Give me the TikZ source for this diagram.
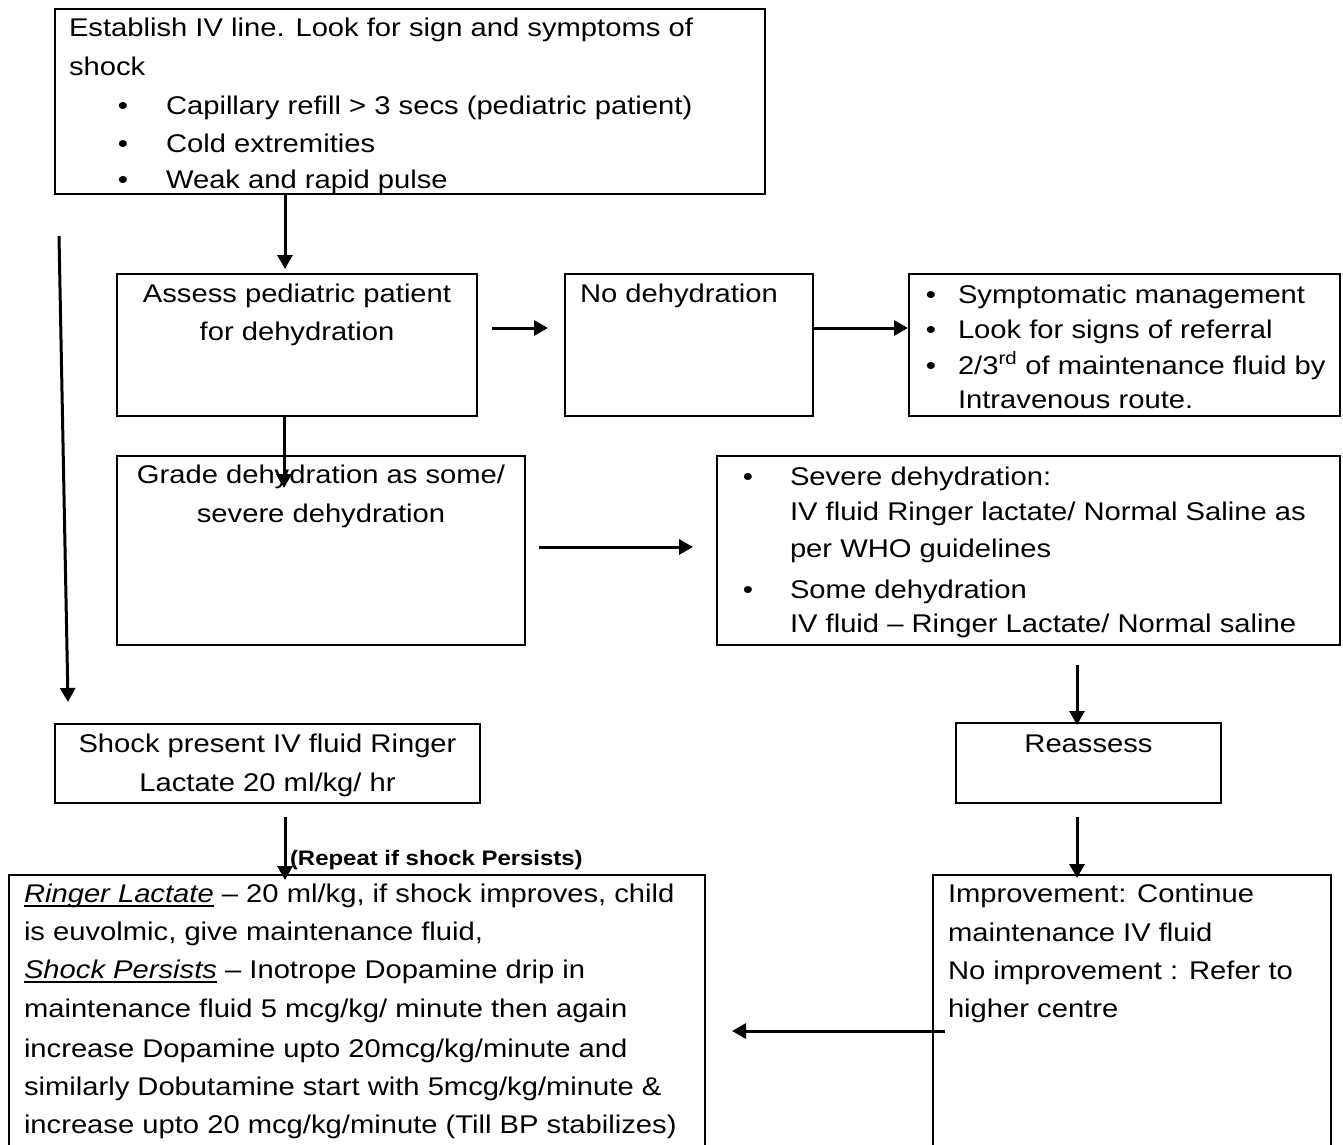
\documentclass[tikz,border=0pt]{standalone}
\usepackage{fontspec}
\setmainfont[FakeStretch=1.14]{Liberation Sans}
\usetikzlibrary{arrows.meta,calc}
\newcommand\myul[1]{\setbox0\hbox{#1}\rlap{\rule[-4.5pt]{\wd0}{2pt}}\box0\relax}
\begin{document}
\begin{tikzpicture}[x=1pt,y=-1pt,
  box/.style={draw=black,line width=2pt,inner sep=0pt,outer sep=0pt,rectangle},
  txt/.style={inner sep=0pt,outer sep=0pt,font=\fontsize{25.6pt}{30pt}\selectfont},
  lbl/.style={inner sep=0pt,outer sep=0pt,font=\fontsize{21pt}{25pt}\selectfont\bfseries},
  arr/.style={line width=3pt,-{Triangle[width=15pt,length=14pt]}},
  plain/.style={line width=3pt}]
\useasboundingbox (0,0) rectangle (1343,1145);
\fill[white] (0,0) rectangle (1343,1145);

% boxes
\node[box,minimum width=710pt,minimum height=185pt] (b1) at (410,101.5) {};
\node[box,minimum width=360pt,minimum height=142pt] (assess) at (297,345) {};
\node[box,minimum width=248pt,minimum height=142pt] (nodeh) at (689,345) {};
\node[box,minimum width=431pt,minimum height=142pt] (symp) at (1124.5,345) {};
\node[box,minimum width=408pt,minimum height=189pt] (grade) at (321,550.5) {};
\node[box,minimum width=623pt,minimum height=189pt] (severe) at (1028.5,550.5) {};
\node[box,minimum width=425pt,minimum height=79pt] (shock) at (267.5,763.5) {};
\node[box,minimum width=265pt,minimum height=80pt] (reassess) at (1088.5,763) {};
\node[box,minimum width=696pt,minimum height=275pt] (rl) at (357,1012.5) {};
\node[box,minimum width=398pt,minimum height=275pt] (impr) at (1132,1012.5) {};

% texts: top box
\node[txt,anchor=base west] (t1a) at (69,37) {Establish IV line. Look for sign and symptoms of};
\node[txt,anchor=base west] (t1b) at (69,76) {shock};
\node[txt,anchor=base] (d1a) at (123,115) {•};
\node[txt,anchor=base] (d1b) at (123,152) {•};
\node[txt,anchor=base] (d1c) at (123,188) {•};
\node[txt,anchor=base west] (t1c) at (166,115) {Capillary refill > 3 secs (pediatric patient)};
\node[txt,anchor=base west] (t1d) at (166,152) {Cold extremities};
\node[txt,anchor=base west] (t1e) at (166,188) {Weak and rapid pulse};

% assess
\node[txt,anchor=base] (t2a) at (297,302) {Assess pediatric patient};
\node[txt,anchor=base] (t2b) at (297,340) {for dehydration};
% no dehydration
\node[txt,anchor=base west] (t3a) at (580,302) {No dehydration};
% symptomatic
\node[txt,anchor=base] (d4a) at (931,303) {•};
\node[txt,anchor=base] (d4b) at (931,338) {•};
\node[txt,anchor=base] (d4c) at (931,374) {•};
\node[txt,anchor=base west] (t4a) at (958,303) {Symptomatic management};
\node[txt,anchor=base west] (t4b) at (958,338) {Look for signs of referral};
\node[txt,anchor=base west] (t4c) at (958,374) {2/3\textsuperscript{rd} of maintenance fluid by};
\node[txt,anchor=base west] (t4d) at (958,408) {Intravenous route.};
% grade
\node[txt,anchor=base] (t5a) at (321,483) {Grade dehydration as some/};
\node[txt,anchor=base] (t5b) at (321,522) {severe dehydration};
% severe
\node[txt,anchor=base] (d6a) at (748,485) {•};
\node[txt,anchor=base] (d6b) at (748,598) {•};
\node[txt,anchor=base west] (t6a) at (790,485) {Severe dehydration:};
\node[txt,anchor=base west] (t6b) at (790,520) {IV fluid Ringer lactate/ Normal Saline as};
\node[txt,anchor=base west] (t6c) at (790,557) {per WHO guidelines};
\node[txt,anchor=base west] (t6d) at (790,598) {Some dehydration};
\node[txt,anchor=base west] (t6e) at (790,632) {IV fluid – Ringer Lactate/ Normal saline};
% shock
\node[txt,anchor=base] (t7a) at (267.5,752) {Shock present IV fluid Ringer};
\node[txt,anchor=base] (t7b) at (267.5,791) {Lactate 20 ml/kg/ hr};
% reassess
\node[txt,anchor=base] (t8a) at (1088.5,752) {Reassess};
% repeat label
\node[lbl,anchor=base west] (rep) at (290,865) {(Repeat if shock Persists)};
% ringer lactate box
\node[txt,anchor=base west] (t9a) at (24,902) {\myul{\itshape Ringer Lactate} – 20 ml/kg, if shock improves, child};
\node[txt,anchor=base west] (t9b) at (24,940) {is euvolmic, give maintenance fluid,};
\node[txt,anchor=base west] (t9c) at (24,978) {\myul{\itshape Shock Persists} – Inotrope Dopamine drip in};
\node[txt,anchor=base west] (t9d) at (24,1017) {maintenance fluid 5 mcg/kg/ minute then again};
\node[txt,anchor=base west] (t9e) at (24,1057) {increase Dopamine upto 20mcg/kg/minute and};
\node[txt,anchor=base west] (t9f) at (24,1095) {similarly Dobutamine start with 5mcg/kg/minute \&};
\node[txt,anchor=base west] (t9g) at (24,1133) {increase upto 20 mcg/kg/minute (Till BP stabilizes)};
% improvement
\node[txt,anchor=base west] (t10a) at (948,902) {Improvement: Continue};
\node[txt,anchor=base west] (t10b) at (948,941) {maintenance IV fluid};
\node[txt,anchor=base west] (t10c) at (948,979) {No improvement : Refer to};
\node[txt,anchor=base west] (t10d) at (948,1017) {higher centre};

% connectors
\coordinate (xa) at (285,0);
\coordinate (xb) at (284,0);
\coordinate (xc) at (1077,0);
\coordinate (yd) at (0,1031);
\coordinate (ls) at ($(b1.south west)+(4,42)$);
\coordinate (le) at ($(shock.north west)+(13,-22)$);

\draw[arr] (b1.south -| xa) -- ($(assess.north -| xa)+(0,-5)$);
\draw[arr] (ls) -- (le);
\draw[arr] ($(assess.east)+(15,-17)$) -- ($(nodeh.west)+(-17,-17)$);
\draw[arr] ($(nodeh.east)+(0,-17)$) -- ($(symp.west)+(-1,-17)$);
\draw[arr] (assess.south -| xb) -- ($(grade.north -| xb)+(0,32)$);
\draw[arr] ($(grade.east)+(14,-3.5)$) -- ($(severe.west)+(-24,-3.5)$);
\draw[arr] ($(severe.south -| xc)+(0,20)$) -- ($(reassess.north -| xc)+(0,2)$);
\draw[arr] ($(shock.south -| xa)+(0,14)$) -- ($(rl.north -| xa)+(0,5)$);
\draw[arr] ($(reassess.south -| xc)+(0,14)$) -- ($(impr.north -| xc)+(0,3)$);
\draw[arr] ($(impr.west |- yd)+(12,0)$) -- ($(rl.east |- yd)+(27,0)$);
\end{tikzpicture}
\end{document}
